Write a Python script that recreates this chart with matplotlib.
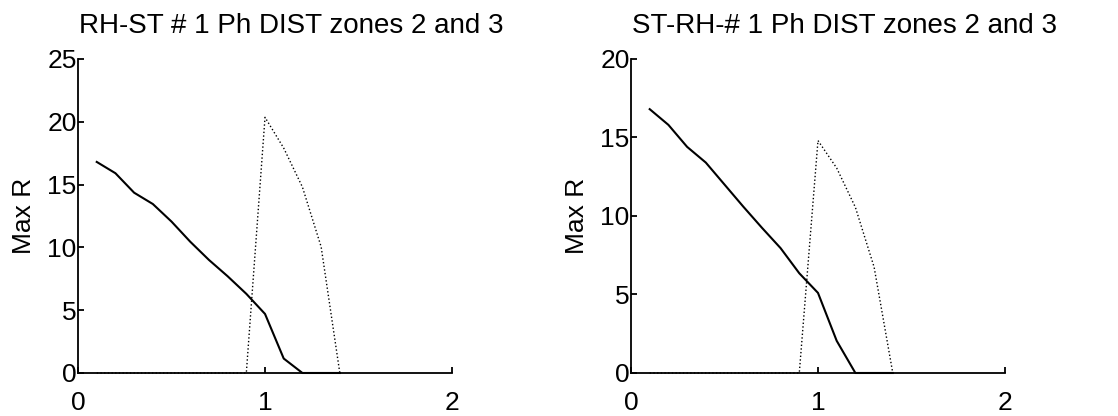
import matplotlib
matplotlib.use('Agg')
import matplotlib.pyplot as plt

plt.rcParams['font.family'] = ['Liberation Sans', 'DejaVu Sans']

# distance axis (same for both panels)
x_vals = [0.1, 0.2, 0.3, 0.4, 0.5, 0.6, 0.7, 0.8, 0.9, 1.0, 1.1, 1.2, 1.3, 1.4]

# RH-ST panel
left_solid = [16.8, 15.9, 14.35, 13.45, 12.05, 10.45, 9.0, 7.7, 6.3, 4.7, 1.15, 0.0, 0.0, 0.0]
left_dotted = [0.0, 0.0, 0.0, 0.0, 0.0, 0.0, 0.0, 0.0, 0.0, 20.35, 17.9, 14.8, 10.05, 0.0]

# ST-RH panel
right_solid = [16.8, 15.8, 14.4, 13.4, 12.0, 10.6, 9.25, 7.95, 6.35, 5.1, 2.05, 0.0, 0.0, 0.0]
right_dotted = [0.0, 0.0, 0.0, 0.0, 0.0, 0.0, 0.0, 0.0, 0.0, 14.8, 13.05, 10.55, 6.75, 0.0]

titles = ['RH-ST # 1 Ph DIST zones 2 and 3', 'ST-RH-# 1 Ph DIST zones 2 and 3']
y_tops = [25, 20]

label_size = 19
title_size = 20

fig = plt.figure(figsize=(11.18, 4.16), dpi=100, facecolor='w')
ax1 = fig.add_axes([0.0698, 0.1034, 0.3345, 0.755])
ax2 = fig.add_axes([0.5644, 0.1034, 0.3345, 0.755])

for ax, solid, dotted, title, ytop in [(ax1, left_solid, left_dotted, titles[0], y_tops[0]),
                                       (ax2, right_solid, right_dotted, titles[1], y_tops[1])]:
    ax.plot(x_vals, solid, 'k', lw=1.5, ls='-', clip_on=False)
    ax.plot(x_vals, dotted, 'k', lw=1.0, ls=':', clip_on=False)
    ax.set_xlim(0, 2)
    ax.set_ylim(0, ytop)
    ax.set_xticks([0, 1, 2])
    ax.set_yticks(range(0, ytop + 1, 5))
    ax.spines['top'].set_visible(False)
    ax.spines['right'].set_visible(False)
    ax.spines['left'].set_linewidth(1.3)
    ax.spines['bottom'].set_linewidth(1.3)
    ax.tick_params(direction='in', length=4, width=1.3, labelsize=label_size)
    ax.tick_params(axis='x', pad=13)
    ax.tick_params(axis='y', pad=1)
    ax.set_ylabel('Max R', fontsize=label_size, labelpad=8)
    ax.set_title(title, fontsize=title_size, x=0.57, pad=19)

fig.savefig('out.png', dpi=100)
